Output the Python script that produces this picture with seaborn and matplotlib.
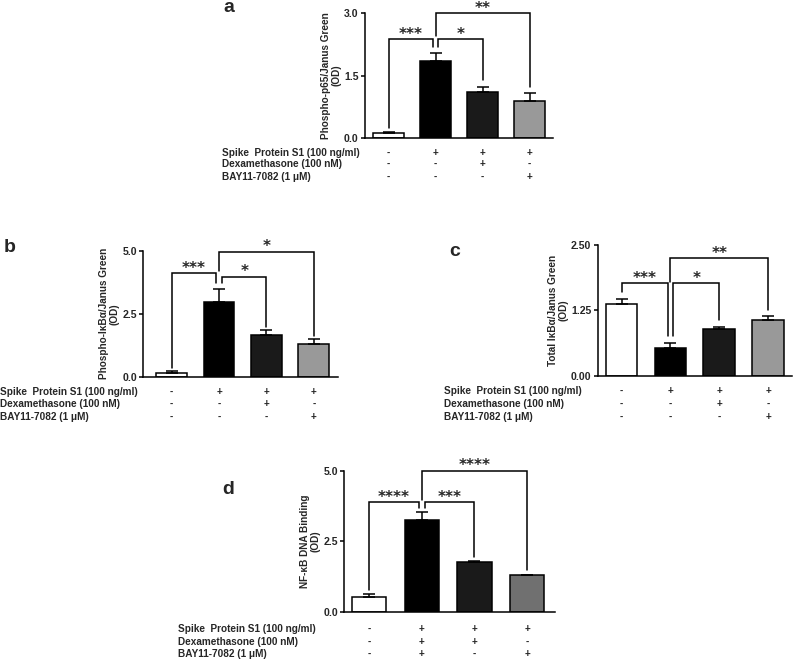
import matplotlib
matplotlib.use("Agg")
import matplotlib.pyplot as plt
import matplotlib.transforms as mtransforms
import seaborn as sns
import pandas as pd

# === Data ===
groups = ["Control", "S1", "S1+Dex", "S1+BAY"]

a_vals = [0.13, 1.85, 1.11, 0.90]
a_err = [0.02, 0.20, 0.12, 0.19]
b_vals = [0.16, 2.98, 1.65, 1.28]
b_err = [0.05, 0.49, 0.20, 0.20]
c_vals = [1.38, 0.53, 0.89, 1.07]
c_err = [0.08, 0.09, 0.04, 0.08]
d_vals = [0.53, 3.24, 1.76, 1.29]
d_err = [0.08, 0.28, 0.04, 0.02]

row_labels = ["Spike  Protein S1 (100 ng/ml)", "Dexamethasone (100 nM)", "BAY11-7082 (1 \u03bcM)"]
signs_abc = [["-", "+", "+", "+"], ["-", "-", "+", "-"], ["-", "-", "-", "+"]]
signs_d = [["-", "+", "+", "+"], ["-", "+", "+", "-"], ["-", "+", "-", "+"]]

# brackets: (x1, x2, y, leg1 bottom, leg2 bottom, stars)
a_brackets = [(0, 0.94, 2.37, 0.24, 2.19, "***"), (1.06, 2, 2.37, 2.19, 1.39, "*"),
              (1, 3, 3.0, 2.45, 1.23, "**")]
b_brackets = [(0, 0.94, 4.10, 0.33, 3.70, "***"), (1.06, 2, 3.97, 3.70, 1.98, "*"),
              (1, 3, 4.96, 4.18, 1.61, "*")]
c_brackets = [(0, 0.94, 1.77, 1.61, 0.76, "***"), (1.06, 2, 1.77, 0.76, 1.07, "*"),
              (1, 3, 2.245, 1.80, 1.26, "**")]
d_brackets = [(0, 0.94, 3.88, 0.77, 3.66, "****"), (1.06, 2, 3.88, 3.66, 1.95, "***"),
              (1, 3, 5.0, 3.95, 1.48, "****")]

colors_abc = ["white", "black", "#1a1a1a", "#999999"]
colors_d = ["white", "black", "#1a1a1a", "#707070"]

# === Style ===
sns.set_style("ticks")
plt.rcParams['font.family'] = ['Liberation Sans', 'DejaVu Sans']
plt.rcParams['font.weight'] = 'bold'
plt.rcParams['axes.labelweight'] = 'bold'

FS = 7.2
W, H = 793, 662
fig = plt.figure(figsize=(W / 100, H / 100), dpi=100)


def rect(left, right, top, bottom):
    return [left / W, 1 - bottom / H, (right - left) / W, (bottom - top) / H]


def panel(box, xlim, vals, errs, colors, yticks, ticklabels, ylabel, brackets,
          signs, rows_y, label_x, letter, letter_xy):
    ax = fig.add_axes(rect(*box))
    df = pd.DataFrame({"group": groups, "value": vals})
    sns.barplot(data=df, x="group", y="value", hue="group", palette=colors,
                legend=False, errorbar=None, width=0.65, edgecolor="black",
                linewidth=1.1, ax=ax)
    ax.errorbar(range(len(vals)), vals, yerr=[[0] * len(errs), errs], fmt="none",
                ecolor="black", elinewidth=1.1, capsize=4, capthick=1.1)
    ax.set_xlim(*xlim)
    ax.set_ylim(yticks[0], yticks[-1])
    ax.set_yticks(yticks)
    ax.set_yticklabels(ticklabels, fontsize=7.6, fontweight="bold")
    ax.set_xticks([])
    ax.set_xlabel("")
    ax.set_ylabel(ylabel, fontsize=FS, fontweight="bold", labelpad=2, linespacing=1.05)
    ax.tick_params(axis="y", length=3, width=1.1, pad=1.5, color="black")
    sns.despine(ax=ax)
    for s in ["left", "bottom"]:
        ax.spines[s].set_linewidth(1.1)
        ax.spines[s].set_color("black")

    # significance brackets
    for x1, x2, y, b1, b2, txt in brackets:
        ax.plot([x1, x1, x2, x2], [b1, y, y, b2], color="black", lw=1.1,
                clip_on=False, solid_joinstyle="miter")
        ax.annotate(txt, xy=((x1 + x2) / 2, y), xytext=(0, 3.5), textcoords="offset points",
                    ha="center", va="center", fontsize=11, fontweight="bold",
                    family="DejaVu Sans", annotation_clip=False)

    # treatment table below the axes
    tr = mtransforms.blended_transform_factory(ax.transData, fig.transFigure)
    for lab, row, ry in zip(row_labels, signs, rows_y):
        fig.text(label_x / W, 1 - ry / H, lab, fontsize=FS, fontweight="bold",
                 ha="left", va="center")
        for i, s in enumerate(row):
            ax.text(i, 1 - ry / H, s, transform=tr, fontsize=FS, fontweight="bold",
                    ha="center", va="center")

    fig.text(letter_xy[0] / W, 1 - letter_xy[1] / H, letter, fontsize=14,
             fontweight="bold", ha="center", va="center")
    return ax


panel((365, 553, 13, 138), (-0.5, 3.5), a_vals, a_err, colors_abc,
      [0, 1.5, 3.0], ["0.0", "1.5", "3.0"], "Phospho-p65/Janus Green\n(OD)",
      a_brackets, signs_abc, [152.7, 164.3, 176.7], 222, "a", (229, 8))
panel((143.3, 337.5, 250.7, 376.7), (-0.6, 3.5), b_vals, b_err, colors_abc,
      [0, 2.5, 5.0], ["0.0", "2.5", "5.0"], "Phospho-I\u03baB\u03b1/Janus Green\n(OD)",
      b_brackets, signs_abc, [391.7, 403.7, 416.7], 0, "b", (10, 248))
panel((597.7, 792, 245, 375.7), (-0.49, 3.49), c_vals, c_err, colors_abc,
      [0, 1.25, 2.50], ["0.00", "1.25", "2.50"], "Total I\u03baB\u03b1/Janus Green\n(OD)",
      c_brackets, signs_abc, [391, 403.7, 416.7], 444.3, "c", (455, 252))
panel((344.3, 555, 470.7, 611.7), (-0.47, 3.53), d_vals, d_err, colors_d,
      [0, 2.5, 5.0], ["0.0", "2.5", "5.0"], "NF-\u03baB DNA Binding\n(OD)",
      d_brackets, signs_d, [629, 642, 654], 177.7, "d", (228, 489))

plt.savefig("out.png", dpi=100)
